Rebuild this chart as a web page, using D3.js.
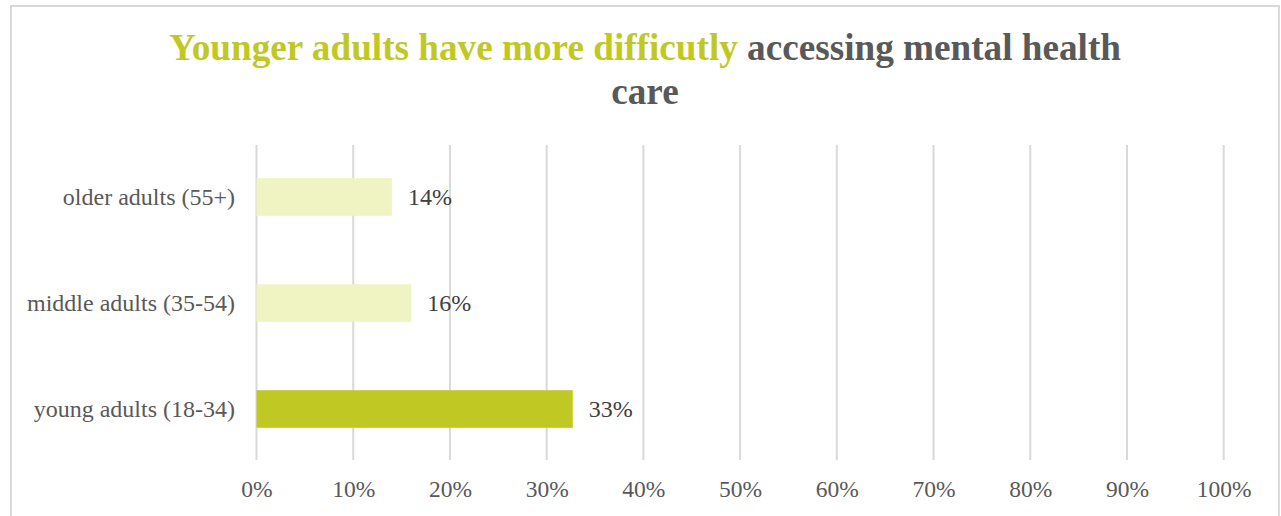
<!DOCTYPE html>
<html>
<head>
<meta charset="utf-8">
<script src="https://cdn.jsdelivr.net/npm/d3@7"></script>
<style>
  body { margin: 0; background: #fff; }
  svg { display: block; }
</style>
</head>
<body>
<svg id="chart" width="1281" height="516"></svg>
<script>
// data
var categories = ["older adults (55+)", "middle adults (35-54)", "young adults (18-34)"];
var values = [14.0, 16.0, 32.7];
var labels = ["14%", "16%", "33%"];
var ticks = [0, 10, 20, 30, 40, 50, 60, 70, 80, 90, 100];

var svg = d3.select("#chart");
var green = "#c0c923";
var pale = "#f0f4c2";
var grey = "#595959";
var serif = "'Liberation Serif', 'Times New Roman', serif";

// chart border
svg.append("rect")
  .attr("x", 11).attr("y", 6)
  .attr("width", 1268).attr("height", 530)
  .style("fill", "none")
  .style("stroke", "#d9d9d9")
  .style("stroke-width", 2);

// title, two coloured runs on line one
var title = svg.append("text")
  .attr("x", 645)
  .attr("y", 60)
  .attr("text-anchor", "middle")
  .style("font-family", serif)
  .style("font-weight", "bold")
  .style("font-size", "37.2px");
title.append("tspan").style("fill", green).text("Younger adults have more difficutly");
title.append("tspan").style("fill", grey).text(" accessing mental health");
svg.append("text")
  .attr("x", 645)
  .attr("y", 104)
  .attr("text-anchor", "middle")
  .style("font-family", serif)
  .style("font-weight", "bold")
  .style("font-size", "37.2px")
  .style("fill", grey)
  .text("care");

var x = d3.scaleLinear()
  .domain([0, 100])
  .range([256.5, 1223.7]);

var y = d3.scaleBand()
  .domain(categories)
  .range([144, 462])
  .paddingInner(0.645)
  .paddingOuter(0.3225);

// gridlines
svg.append("g")
  .selectAll("line")
  .data(ticks)
  .enter().append("line")
  .attr("x1", function(d) { return x(d); })
  .attr("x2", function(d) { return x(d); })
  .attr("y1", 145)
  .attr("y2", 460)
  .style("stroke", "#d9d9d9")
  .style("stroke-width", 2);

// bottom axis labels
var xAxis = d3.axisBottom(x)
  .tickValues(ticks)
  .tickSize(0)
  .tickPadding(0)
  .tickFormat(function(d) { return d + "%"; });
var gx = svg.append("g")
  .attr("transform", "translate(0,497)")
  .call(xAxis);
gx.select(".domain").remove();
gx.selectAll("text")
  .attr("dy", 0)
  .style("font-family", serif)
  .style("font-size", "23.5px")
  .style("fill", grey);

// category labels
var yAxis = d3.axisLeft(y).tickSize(0).tickPadding(0);
var gy = svg.append("g")
  .attr("transform", "translate(235,0)")
  .call(yAxis);
gy.select(".domain").remove();
gy.selectAll("text")
  .attr("dy", "0.32em")
  .style("font-family", serif)
  .style("font-size", "24px")
  .style("fill", grey);

// bars
svg.append("g")
  .selectAll("rect")
  .data(categories)
  .enter().append("rect")
  .attr("x", x(0))
  .attr("y", function(d) { return y(d); })
  .attr("width", function(d, i) { return x(values[i]) - x(0); })
  .attr("height", y.bandwidth())
  .style("fill", function(d, i) { return i == 2 ? green : pale; });

// value labels
svg.append("g")
  .selectAll("text")
  .data(categories)
  .enter().append("text")
  .attr("x", function(d, i) { return x(values[i]) + 16; })
  .attr("y", function(d) { return y(d) + y.bandwidth() / 2; })
  .attr("dy", "0.35em")
  .style("font-family", serif)
  .style("font-size", "24px")
  .style("fill", "#404040")
  .text(function(d, i) { return labels[i]; });
</script>
</body>
</html>
